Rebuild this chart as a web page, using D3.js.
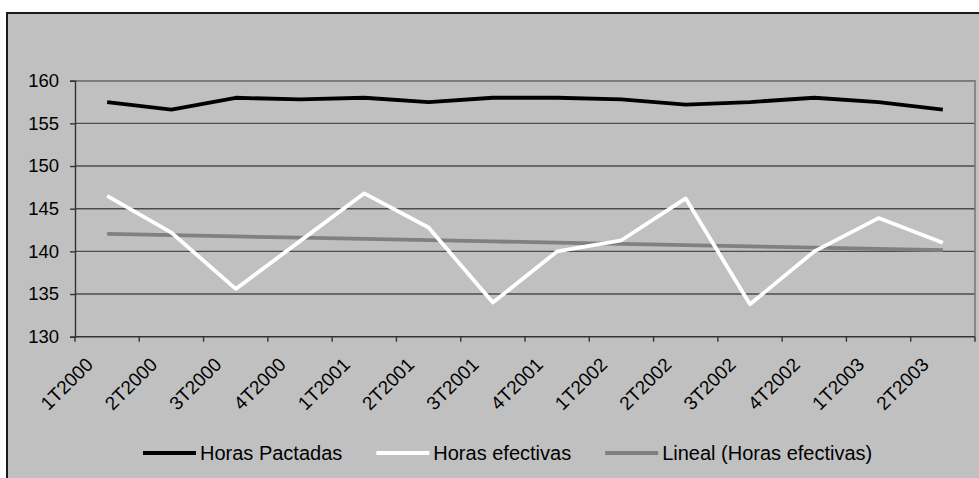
<!DOCTYPE html>
<html>
<head>
<meta charset="utf-8">
<script src="https://cdn.jsdelivr.net/npm/d3@7"></script>
<style>
  html, body { margin: 0; padding: 0; background: #fff; }
  svg { display: block; }
  text { font-family: "Liberation Sans", Arial, sans-serif; fill: #000; }
</style>
</head>
<body>
<svg id="chart" width="979" height="478"></svg>
<script>
// Quarterly working hours, 2000–2003
const categories = ["1T2000","2T2000","3T2000","4T2000","1T2001","2T2001","3T2001",
                    "4T2001","1T2002","2T2002","3T2002","4T2002","1T2003","2T2003"];
const horasPactadas  = [157.5,156.6,158.0,157.8,158.0,157.5,158.0,158.0,157.8,157.2,157.5,158.0,157.5,156.6];
const horasEfectivas = [146.5,142.2,135.6,141.2,146.8,142.8,134.0,140.0,141.3,146.2,133.8,140.0,143.9,141.0];
const yTicks = [130,135,140,145,150,155,160];
const seriesNames = ["Horas Pactadas","Horas efectivas","Lineal (Horas efectivas)"];

// Least-squares linear trend of the effective hours
const n = horasEfectivas.length;
const xs = d3.range(1, n + 1);
const mx = d3.mean(xs), my = d3.mean(horasEfectivas);
const slope = d3.sum(xs, (x, i) => (x - mx) * (horasEfectivas[i] - my)) /
              d3.sum(xs, x => (x - mx) * (x - mx));
const tendencia = xs.map(x => my + slope * (x - mx));

const svg = d3.select("#chart");
const W = 979, H = 478;
const plot = { left: 75, right: 975, top: 80.7, bottom: 336.7 };
const fontSize = 18.5;

// Chart area
svg.append("rect")
  .attr("x", 7).attr("y", 13).attr("width", W + 20).attr("height", H + 20)
  .attr("fill", "#c0c0c0").attr("stroke", "#1a1a1a").attr("stroke-width", 2);

const x = d3.scaleBand().domain(categories).range([plot.left, plot.right]).padding(0);
const y = d3.scaleLinear().domain([130, 160]).range([plot.bottom, plot.top]);
const cx = c => x(c) + x.bandwidth() / 2;

// Horizontal gridlines
svg.append("g").selectAll("line").data(yTicks.filter(t => t > 130)).join("line")
  .attr("x1", plot.left).attr("x2", plot.right)
  .attr("y1", d => y(d)).attr("y2", d => y(d))
  .attr("stroke", "#4d4d4d").attr("stroke-width", 1.4);

// Plot-area frame (top and right)
svg.append("path")
  .attr("d", `M${plot.left},${plot.top}H${plot.right}V${plot.bottom}`)
  .attr("fill", "none").attr("stroke", "#7a7a7a").attr("stroke-width", 1.6);

// Y axis
const yAxis = svg.append("g").attr("transform", `translate(${plot.left},0)`)
  .call(d3.axisLeft(y).tickValues(yTicks).tickSize(5).tickPadding(11).tickFormat(d3.format("d")));
yAxis.select(".domain").attr("stroke", "#333").attr("stroke-width", 1.4);
yAxis.selectAll(".tick line").attr("stroke", "#333").attr("stroke-width", 1.4);
yAxis.selectAll("text").attr("font-size", fontSize)
  .attr("font-family", "'Liberation Sans', Arial, sans-serif").attr("fill", "#000");

// X axis: ticks at the category boundaries
const xAxisG = svg.append("g");
xAxisG.append("line")
  .attr("x1", plot.left).attr("x2", plot.right)
  .attr("y1", plot.bottom).attr("y2", plot.bottom)
  .attr("stroke", "#333").attr("stroke-width", 1.4);
const boundaries = categories.map(c => x(c)).concat([plot.right]);
xAxisG.selectAll("line.tk").data(boundaries).join("line").attr("class", "tk")
  .attr("x1", d => d).attr("x2", d => d)
  .attr("y1", plot.bottom).attr("y2", plot.bottom + 5)
  .attr("stroke", "#333").attr("stroke-width", 1.4);
xAxisG.selectAll("text").data(categories).join("text")
  .attr("transform", d => `translate(${cx(d) - 13},${plot.bottom + 29}) rotate(-45)`)
  .attr("text-anchor", "end")
  .attr("font-size", 19)
  .text(d => d);

// Series lines
const line = d3.line().x((d, i) => cx(categories[i])).y(d => y(d));
const series = [
  { name: seriesNames[0], values: horasPactadas,  color: "#000000" },
  { name: seriesNames[1], values: horasEfectivas, color: "#ffffff" },
  { name: seriesNames[2], values: tendencia,      color: "#808080" }
];
// trend first so the effective-hours line sits above it
[series[2], series[0], series[1]].forEach(s => {
  svg.append("path").datum(s.values)
    .attr("d", line)
    .attr("fill", "none")
    .attr("stroke", s.color)
    .attr("stroke-width", 3.8)
    .attr("stroke-linejoin", "round");
});

// Legend
const legendY = 453;
const legend = svg.append("g");
let lx = 143;
series.forEach(s => {
  legend.append("line")
    .attr("x1", lx).attr("x2", lx + 53)
    .attr("y1", legendY).attr("y2", legendY)
    .attr("stroke", s.color).attr("stroke-width", 4);
  const t = legend.append("text")
    .attr("x", lx + 57).attr("y", legendY + 7)
    .attr("font-size", 20)
    .text(s.name);
  lx += 57 + t.node().getComputedTextLength() + 34;
});
</script>
</body>
</html>
